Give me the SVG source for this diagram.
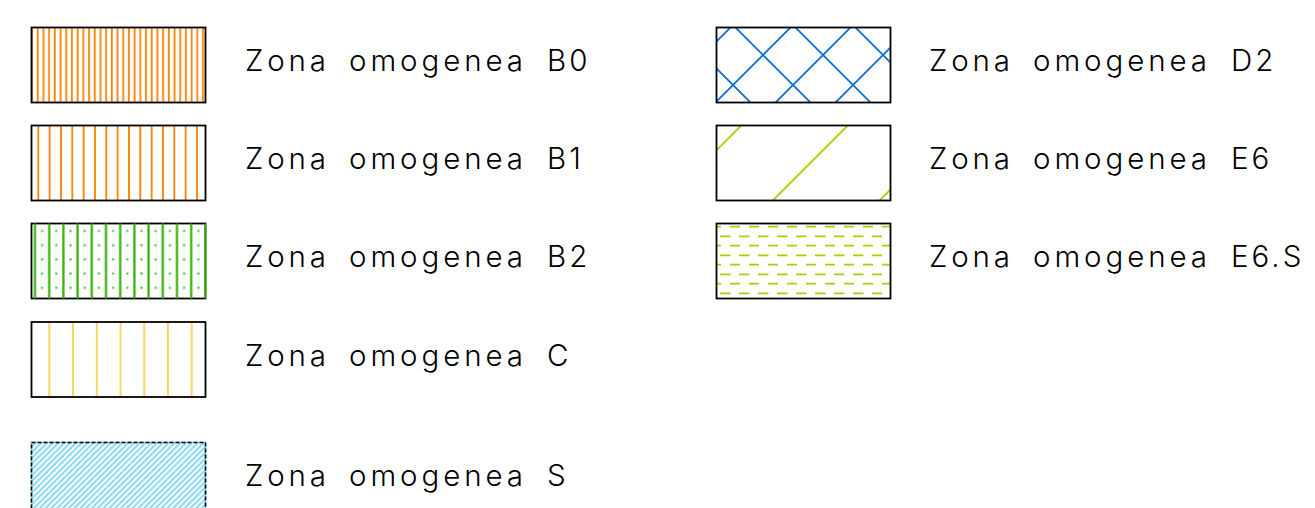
<svg xmlns="http://www.w3.org/2000/svg" width="1315" height="508" viewBox="0 0 1315 508">
<style>
.box{fill:none;stroke:#000;stroke-width:1.8}
.lbl{font-family:"Inter","Liberation Sans",sans-serif;font-weight:300;font-size:29.5px;fill:#000}
.cd{letter-spacing:3px}
.or{stroke:#FF8000;stroke-width:1.8}
.gr{stroke:#2FB000;stroke-width:2.2}
.ye{stroke:#FFD45C;stroke-width:2}
.cy{stroke:#7FD6F5;stroke-width:1.9}
.bl{stroke:#0A6FD6;stroke-width:1.8;fill:none}
.lg{stroke:#9FD400;stroke-width:1.8;fill:none}
</style>
<defs>
<pattern id="pB0" patternUnits="userSpaceOnUse" x="29.3" y="0" width="5.7" height="20"><line class="or" x1="2.7" y1="0" x2="2.7" y2="20"/></pattern>
<pattern id="pB1" patternUnits="userSpaceOnUse" x="32.63" y="0" width="11.333" height="20"><line class="or" x1="5.67" y1="0" x2="5.67" y2="20"/></pattern>
<pattern id="pB2l" patternUnits="userSpaceOnUse" x="27.9" y="0" width="14.2" height="20"><line class="gr" x1="7.1" y1="0" x2="7.1" y2="20"/></pattern>
<pattern id="pB2d" patternUnits="userSpaceOnUse" x="35" y="223.9" width="14.2" height="14.2"><circle cx="7.1" cy="7.1" r="1.2" fill="#3CC83C"/></pattern>
<pattern id="pC" patternUnits="userSpaceOnUse" x="37.43" y="0" width="23.733" height="20"><line class="ye" x1="11.87" y1="0" x2="11.87" y2="20"/></pattern>
<pattern id="pS" patternUnits="userSpaceOnUse" x="0" y="0" width="4.1" height="10" patternTransform="rotate(45)"><line class="cy" x1="2" y1="0" x2="2" y2="10"/></pattern>
<clipPath id="cD2"><rect x="716.5" y="27.5" width="174" height="75"/></clipPath>
<clipPath id="cE6"><rect x="716.5" y="125.5" width="174" height="75"/></clipPath>
<clipPath id="cE6S"><rect x="716.5" y="223.5" width="174" height="75"/></clipPath>
</defs>

<g id="B0">
<rect x="31.5" y="27.5" width="174" height="75" fill="url(#pB0)"/>
<rect class="box" x="31.5" y="27.5" width="174" height="75"/>
<text class="lbl" y="71"><tspan x="245" textLength="81" lengthAdjust="spacing">Zona</tspan><tspan x="349" textLength="174" lengthAdjust="spacing">omogenea</tspan><tspan class="cd" x="547">B0</tspan></text>
</g>

<g id="B1">
<rect x="31.5" y="125.5" width="174" height="75" fill="url(#pB1)"/>
<rect class="box" x="31.5" y="125.5" width="174" height="75"/>
<text class="lbl" y="169"><tspan x="245" textLength="81" lengthAdjust="spacing">Zona</tspan><tspan x="349" textLength="174" lengthAdjust="spacing">omogenea</tspan><tspan class="cd" x="547">B1</tspan></text>
</g>

<g id="B2">
<rect x="31.5" y="223.5" width="174" height="75" fill="url(#pB2d)"/>
<rect class="box" x="31.5" y="223.5" width="174" height="75"/>
<rect x="31.5" y="223.5" width="175" height="75" fill="url(#pB2l)"/>
<text class="lbl" y="267"><tspan x="245" textLength="81" lengthAdjust="spacing">Zona</tspan><tspan x="349" textLength="174" lengthAdjust="spacing">omogenea</tspan><tspan class="cd" x="547">B2</tspan></text>
</g>

<g id="C">
<rect x="31.5" y="322" width="174" height="75" fill="url(#pC)"/>
<rect class="box" x="31.5" y="322" width="174" height="75"/>
<text class="lbl" y="365.5"><tspan x="245" textLength="81" lengthAdjust="spacing">Zona</tspan><tspan x="349" textLength="174" lengthAdjust="spacing">omogenea</tspan><tspan class="cd" x="547">C</tspan></text>
</g>

<g id="S">
<rect x="31.5" y="442.5" width="174" height="75" fill="url(#pS)"/>
<rect x="31.5" y="442.5" width="174" height="75" fill="none" stroke="#7FD6F5" stroke-width="1.6"/>
<rect x="31.5" y="442.5" width="174" height="75" fill="none" stroke="#000" stroke-width="1.6" stroke-dasharray="4 2"/>
<text class="lbl" y="486"><tspan x="245" textLength="81" lengthAdjust="spacing">Zona</tspan><tspan x="349" textLength="174" lengthAdjust="spacing">omogenea</tspan><tspan class="cd" x="547">S</tspan></text>
</g>

<g id="D2">
<g clip-path="url(#cD2)">
<path class="bl" d="M668,20L758,110M728,20L818,110M788,20L878,110M848,20L938,110M738,20L648,110M798,20L708,110M858,20L768,110M918,20L828,110"/>
</g>
<rect class="box" x="716.5" y="27.5" width="174" height="75"/>
<text class="lbl" y="71"><tspan x="929" textLength="81" lengthAdjust="spacing">Zona</tspan><tspan x="1033" textLength="174" lengthAdjust="spacing">omogenea</tspan><tspan class="cd" x="1231">D2</tspan></text>
</g>

<g id="E6">
<g clip-path="url(#cE6)">
<path class="lg" d="M746.7,120L661.7,205M853.3,120L768.3,205M960,120L875,205"/>
</g>
<rect class="box" x="716.5" y="125.5" width="174" height="75"/>
<text class="lbl" y="169"><tspan x="929" textLength="81" lengthAdjust="spacing">Zona</tspan><tspan x="1033" textLength="174" lengthAdjust="spacing">omogenea</tspan><tspan class="cd" x="1231">E6</tspan></text>
</g>

<g id="E6S">
<g clip-path="url(#cE6S)">
<path class="lg" stroke-dasharray="10 9" d="M711,226.7H900M711,245.7H900M711,264.7H900M711,283.7H900"/>
<path class="lg" stroke-dasharray="10.5 8.5" d="M720,236.3H882M720,255.3H882M720,274.3H882M720,293.3H882"/>
</g>
<rect class="box" x="716.5" y="223.5" width="174" height="75"/>
<text class="lbl" y="267"><tspan x="929" textLength="81" lengthAdjust="spacing">Zona</tspan><tspan x="1033" textLength="174" lengthAdjust="spacing">omogenea</tspan><tspan class="cd" x="1231">E6.S</tspan></text>
</g>
</svg>
